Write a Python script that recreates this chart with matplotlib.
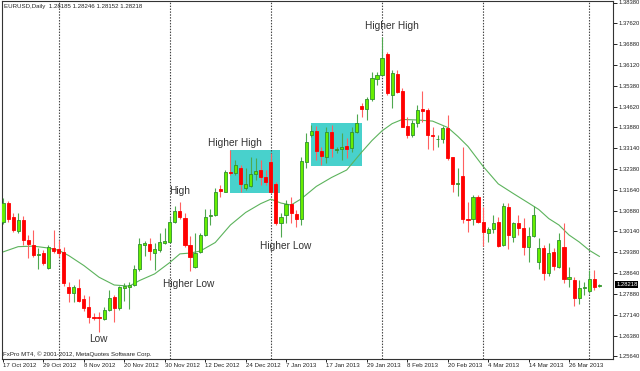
import matplotlib.pyplot as plt
from matplotlib.patches import Rectangle

plt.rcParams['font.family'] = ['Liberation Sans', 'DejaVu Sans']

# EURUSD daily candles, 17 Oct 2012 .. 3 Apr 2013 (one entry per bar)
opens = [
    1.3049, 1.3117, 1.3066, 1.3016, 1.3055, 1.2983, 1.2965, 1.2929, 1.2937, 1.2882,
    1.2954, 1.2951, 1.2941, 1.2814, 1.2792, 1.2810, 1.2771, 1.2743, 1.2707, 1.2707,
    1.2699, 1.2731, 1.2779, 1.2739, 1.2809, 1.2814, 1.2821, 1.2878, 1.2965, 1.2969,
    1.2937, 1.2947, 1.2971, 1.2977, 1.3049, 1.3088, 1.3061, 1.2965, 1.2886, 1.2941,
    1.3001, 1.3069, 1.3073, 1.3167, 1.3157, 1.3229, 1.3223, 1.3241, 1.3169, 1.3177,
    1.3221, 1.3235, 1.3211, 1.3265, 1.3185, 1.3043, 1.3073, 1.3113, 1.3077, 1.3058,
    1.3265, 1.3361, 1.3375, 1.3304, 1.3283, 1.3373, 1.3307, 1.3310, 1.3321, 1.3313,
    1.3373, 1.3465, 1.3454, 1.3490, 1.3562, 1.3577, 1.3653, 1.3505, 1.3581, 1.3520,
    1.3393, 1.3361, 1.3405, 1.3454, 1.3451, 1.3361, 1.3346, 1.3348, 1.3385, 1.3281,
    1.3185, 1.3213, 1.3058, 1.3058, 1.3137, 1.3049, 1.3007, 1.3022, 1.3047, 1.2965,
    1.3103, 1.2993, 1.3043, 1.3025, 1.2957, 1.2997, 1.2905, 1.2953, 1.2863, 1.2941,
    1.2887, 1.2959, 1.2842, 1.2839, 1.2773, 1.2809, 1.2800, 1.2844, 1.28185]
highs = [
    1.3135, 1.3125, 1.3080, 1.3080, 1.3069, 1.3001, 1.3019, 1.2954, 1.2947, 1.2965,
    1.3019, 1.2983, 1.2959, 1.2833, 1.2821, 1.2843, 1.2785, 1.2781, 1.2719, 1.2725,
    1.2743, 1.2803, 1.2785, 1.2817, 1.2827, 1.2833, 1.2893, 1.2989, 1.2980, 1.2989,
    1.2972, 1.3008, 1.3025, 1.3065, 1.3105, 1.3121, 1.3080, 1.2997, 1.3008, 1.3007,
    1.3095, 1.3095, 1.3169, 1.3181, 1.3235, 1.3307, 1.3271, 1.3253, 1.3242, 1.3283,
    1.3278, 1.3271, 1.3235, 1.3297, 1.3193, 1.3080, 1.3127, 1.3139, 1.3091, 1.3283,
    1.3367, 1.3397, 1.3393, 1.3319, 1.3391, 1.3397, 1.3319, 1.3367, 1.3349, 1.3391,
    1.3437, 1.3477, 1.3499, 1.3589, 1.3589, 1.3715, 1.3661, 1.3595, 1.3595, 1.3530,
    1.3427, 1.3415, 1.3469, 1.3519, 1.3457, 1.3391, 1.3361, 1.3393, 1.3433, 1.3283,
    1.3241, 1.3317, 1.3121, 1.3145, 1.3145, 1.3103, 1.3029, 1.3073, 1.3067, 1.3115,
    1.3115, 1.3049, 1.3073, 1.3061, 1.3031, 1.3105, 1.2989, 1.2965, 1.2973, 1.2953,
    1.3007, 1.3043, 1.2885, 1.2851, 1.2839, 1.2833, 1.2875, 1.2875, 1.28246]
lows = [
    1.3041, 1.3049, 1.3012, 1.3008, 1.2965, 1.2918, 1.2922, 1.2879, 1.2893, 1.2879,
    1.2937, 1.2922, 1.2817, 1.2761, 1.2761, 1.2761, 1.2728, 1.2684, 1.2695, 1.2653,
    1.2695, 1.2728, 1.2689, 1.2731, 1.2764, 1.2734, 1.2817, 1.2872, 1.2925, 1.2911,
    1.2875, 1.2941, 1.2969, 1.2973, 1.3043, 1.3058, 1.2959, 1.2872, 1.2882, 1.2936,
    1.2997, 1.3037, 1.3069, 1.3139, 1.3156, 1.3217, 1.3217, 1.3157, 1.3163, 1.3173,
    1.3199, 1.3181, 1.3181, 1.3153, 1.3037, 1.2995, 1.3043, 1.3043, 1.3031, 1.3037,
    1.3241, 1.3354, 1.3271, 1.3253, 1.3259, 1.3283, 1.3297, 1.3271, 1.3277, 1.3301,
    1.3367, 1.3427, 1.3415, 1.3484, 1.3541, 1.3573, 1.3505, 1.3457, 1.3511, 1.3389,
    1.3349, 1.3355, 1.3391, 1.3409, 1.3311, 1.3307, 1.3317, 1.3333, 1.3271, 1.3157,
    1.3141, 1.3043, 1.3013, 1.3037, 1.3043, 1.2961, 1.2977, 1.3007, 1.2959, 1.2961,
    1.2950, 1.2977, 1.3001, 1.2929, 1.2905, 1.2993, 1.2878, 1.2839, 1.2853, 1.2875,
    1.2881, 1.2827, 1.2813, 1.2745, 1.2753, 1.2785, 1.2791, 1.2803, 1.28152]
closes = [
    1.3116, 1.3059, 1.3019, 1.3055, 1.2983, 1.2969, 1.2929, 1.2933, 1.2900, 1.2958,
    1.2943, 1.2936, 1.2829, 1.2792, 1.2814, 1.2764, 1.2739, 1.2706, 1.2703, 1.2701,
    1.2731, 1.2774, 1.2737, 1.2814, 1.2817, 1.2822, 1.2879, 1.2969, 1.2971, 1.2943,
    1.2950, 1.2977, 1.2980, 1.3049, 1.3088, 1.3065, 1.2965, 1.2922, 1.2936, 1.3001,
    1.3067, 1.3073, 1.3157, 1.3160, 1.3229, 1.3223, 1.3253, 1.3185, 1.3185, 1.3220,
    1.3232, 1.3211, 1.3193, 1.3157, 1.3043, 1.3067, 1.3113, 1.3079, 1.3060, 1.3268,
    1.3337, 1.3376, 1.3303, 1.3285, 1.3373, 1.3314, 1.3310, 1.3319, 1.3312, 1.3373,
    1.3403, 1.3454, 1.3490, 1.3565, 1.3577, 1.3637, 1.3511, 1.3585, 1.3517, 1.3391,
    1.3361, 1.3403, 1.3451, 1.3448, 1.3361, 1.3356, 1.3348, 1.3385, 1.3278, 1.3185,
    1.3187, 1.3058, 1.3055, 1.3137, 1.3049, 1.3013, 1.3022, 1.3045, 1.2961, 1.3105,
    1.3001, 1.3043, 1.3025, 1.2957, 1.2997, 1.3073, 1.2953, 1.2863, 1.2937, 1.2889,
    1.2983, 1.2842, 1.2851, 1.2773, 1.2809, 1.2815, 1.2844, 1.2813, 1.28218]

# moving average at some bars
ma_bars = [0, 3, 6, 9, 11, 13, 16, 19, 22, 25, 27, 30, 33, 35, 37, 39, 42, 45, 48, 51,
           53, 55, 57, 59, 62, 65, 68, 71, 73, 75, 77, 79, 82, 85, 88, 90, 92, 95, 98,
           101, 104, 106, 108, 110, 112, 114, 116, 118]
ma_values = [1.2940, 1.2959, 1.2961, 1.2954, 1.2946, 1.2927, 1.2891, 1.2849, 1.2821, 1.2817,
             1.2837, 1.2861, 1.2902, 1.2933, 1.2936, 1.2943, 1.2974, 1.3037, 1.3082, 1.3114,
             1.3130, 1.3116, 1.3109, 1.3131, 1.3176, 1.3208, 1.3235, 1.3300, 1.3341, 1.3376,
             1.3402, 1.3417, 1.3415, 1.3411, 1.3388, 1.3356, 1.3320, 1.3248, 1.3185, 1.3150,
             1.3116, 1.3093, 1.3060, 1.3037, 1.3001, 1.2976, 1.2946, 1.2924]

date_bars = [0, 8, 16, 24, 32, 40, 48, 56, 64, 72, 80, 88, 96, 104, 112]
date_labels = ['17 Oct 2012', '29 Oct 2012', '8 Nov 2012', '20 Nov 2012', '30 Nov 2012',
               '12 Dec 2012', '24 Dec 2012', '7 Jan 2013', '17 Jan 2013', '29 Jan 2013',
               '8 Feb 2013', '20 Feb 2013', '4 Mar 2013', '14 Mar 2013', '26 Mar 2013']
month_bars = [11, 33, 53, 75, 95, 116]

price_labels = ['1.38380', '1.37620', '1.36880', '1.36120', '1.35380', '1.34620',
                '1.33880', '1.33140', '1.32380', '1.31640', '1.30880', '1.30140',
                '1.29380', '1.28640', '1.27880', '1.27140', '1.26380', '1.25640']

# rectangles (bar from, bar to, top, bottom)
box_x0 = [44.9, 60.9]
box_x1 = [54.8, 71.0]
box_top = [1.3307, 1.3403]
box_bot = [1.3154, 1.3251]

notes = ['Higher High', 'High', 'Higher Low', 'Low', 'Higher Low', 'Higher High']
note_x = [45.9, 34.9, 36.7, 18.8, 55.9, 77.0]
note_y = [1.3332, 1.3159, 1.2825, 1.2627, 1.2962, 1.3754]

fig = plt.figure(figsize=(6.4, 3.71), dpi=100)
ax = fig.add_axes([1.5 / 640, 12 / 371, 611.5 / 640, 358 / 371])

for x0, x1, t, b in zip(box_x0, box_x1, box_top, box_bot):
    ax.add_patch(Rectangle((x0, b), x1 - x0, t - b, facecolor='#48D1CC',
                           edgecolor='none', zorder=1))

for b in month_bars:
    ax.axvline(b, color='#444444', ls=(0, (1.3, 1.3)), lw=0.8, zorder=2)

ax.plot(ma_bars, ma_values, color='#5cb35c', lw=0.8, zorder=2.5)

idx = list(range(len(opens)))
bottoms, heights, fills, edges, wick_cols = [], [], [], [], []
for o, c in zip(opens, closes):
    up = c >= o
    bottoms.append(min(o, c))
    heights.append(max(abs(c - o), 0.00012))
    fills.append('#66ee00' if up else '#ff0000')
    edges.append('#2f8f2f' if up else '#ff0000')
    wick_cols.append('#4fa84f' if up else '#ff6060')

ax.vlines(idx, lows, highs, colors=wick_cols, lw=0.8, zorder=3)
ax.bar(idx, heights, bottom=bottoms, width=0.62, color=fills, edgecolor=edges,
       linewidth=0.6, zorder=4)

for t, x, y in zip(notes, note_x, note_y):
    ax.text(x, y, t, fontsize=7.3, color='#333333', ha='center', va='center', zorder=6)

ax.set_xlim(-0.3, 120.7)
ax.set_ylim(1.25546, 1.38434)

step = (1.3838 - 1.2564) / 17
ax.yaxis.tick_right()
ax.set_yticks([1.3838 - k * step for k in range(len(price_labels))])
ax.set_yticklabels(price_labels)
ax.tick_params(axis='y', length=3, width=0.7, pad=1.0, labelsize=4.2, colors='#222222')

ax.set_xticks(date_bars)
ax.set_xticklabels(date_labels, ha='left')
ax.tick_params(axis='x', length=2.5, width=0.7, pad=0.5, labelsize=4.4, colors='#222222')

for s in ax.spines.values():
    s.set_color('#333333')
    s.set_linewidth(0.8)

# current price marker on the price scale
ax.text(1.005, closes[-1], '%.5f' % closes[-1], transform=ax.get_yaxis_transform(),
        fontsize=4.2, color='white', ha='left', va='center',
        bbox=dict(boxstyle='square,pad=0.15', facecolor='black', edgecolor='none'),
        clip_on=False, zorder=7)

fig.text(3.5 / 640, 1 - 6.5 / 371, 'EURUSD,Daily  %.5f %.5f %.5f %.5f'
         % (opens[-1], highs[-1], lows[-1], closes[-1]),
         fontsize=4.4, color='#222222', va='center')
fig.text(3 / 640, 1 - 353.7 / 371, 'FxPro MT4, \u00a9 2001-2012, MetaQuotes Software Corp.',
         fontsize=4.4, color='#222222', va='center')

fig.savefig('out.png', dpi=100)
